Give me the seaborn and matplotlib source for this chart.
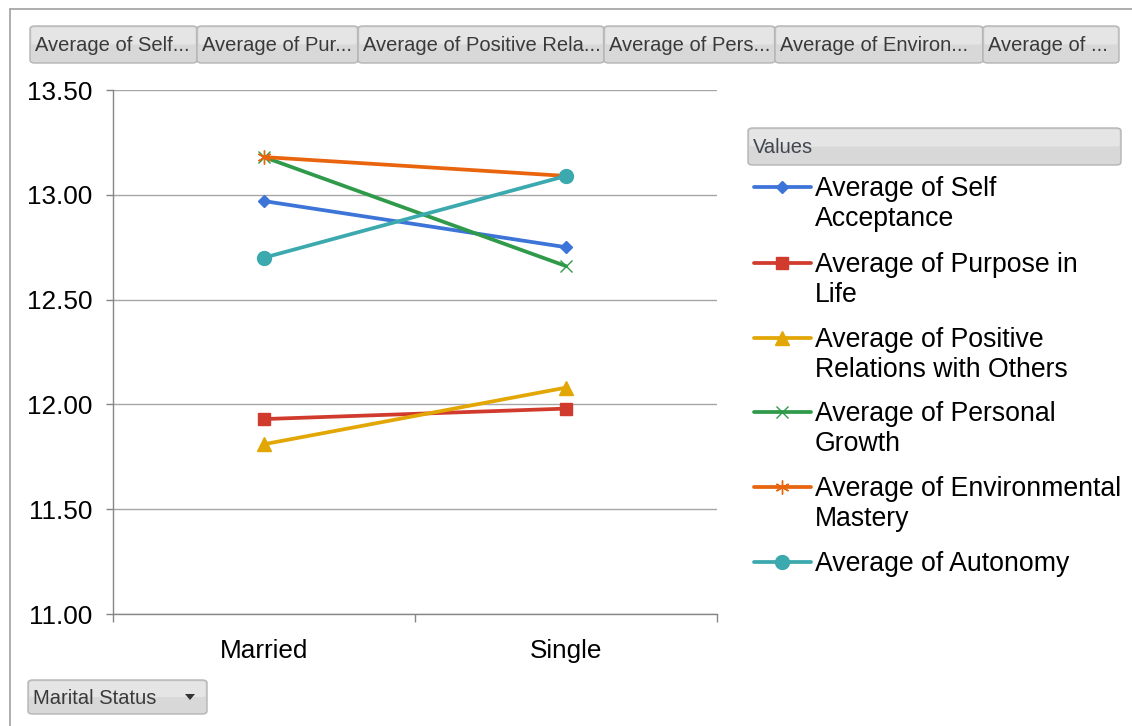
import matplotlib
matplotlib.use("Agg")
import matplotlib.pyplot as plt
import seaborn as sns
import pandas as pd
from matplotlib.patches import FancyBboxPatch, Polygon
from matplotlib.lines import Line2D

# ---------------- data ----------------
categories = ["Married", "Single"]
series_names = [
    "Average of Self Acceptance",
    "Average of Purpose in Life",
    "Average of Positive Relations with Others",
    "Average of Personal Growth",
    "Average of Environmental Mastery",
    "Average of Autonomy",
]
self_acceptance = [12.97, 12.75]
purpose_in_life = [11.93, 11.98]
positive_relations = [11.81, 12.08]
personal_growth = [13.18, 12.66]
environmental_mastery = [13.18, 13.09]
autonomy = [12.70, 13.09]
legend_lines = [
    ["Average of Self", "Acceptance"],
    ["Average of Purpose in", "Life"],
    ["Average of Positive", "Relations with Others"],
    ["Average of Personal", "Growth"],
    ["Average of Environmental", "Mastery"],
    ["Average of Autonomy"],
]
button_labels = ["Average of Self...", "Average of Pur...", "Average of Positive Rela...",
                 "Average of Pers...", "Average of Environ...", "Average of ..."]
y_ticks = [11.0, 11.5, 12.0, 12.5, 13.0, 13.5]

values = [self_acceptance, purpose_in_life, positive_relations,
          personal_growth, environmental_mastery, autonomy]
rows = []
for name, vals in zip(series_names, values):
    for cat, v in zip(categories, vals):
        rows.append({"Marital Status": cat, "value": v, "series": name})
df = pd.DataFrame(rows)

# ---------------- styles ----------------
colors = ["#3D74D8", "#D13B2D", "#E2A705", "#2F9A4A", "#E8650E", "#3BA9AE"]
markers = ["D", "s", "^", "x", (6, 2, 0), "o"]
msizes = [6.5, 9, 10, 9, 10, 10]
LW = 2.7

W, H = 1132, 726
sns.set_theme(style="white")
plt.rcParams["font.family"] = ["Liberation Sans", "DejaVu Sans"]

fig = plt.figure(figsize=(W / 100, H / 100), dpi=100)
fig.patch.set_facecolor("white")


def fx(px):
    return px / W


def fy(py):
    return 1 - py / H


ax = fig.add_axes([fx(113), fy(614), fx(717) - fx(113), fy(90) - fy(614)])

sns.lineplot(data=df, x="Marital Status", y="value", hue="series",
             hue_order=series_names, palette=colors, linewidth=LW,
             sort=False, legend=False, ax=ax)

for line, m, ms, c in zip(ax.lines, markers, msizes, colors):
    line.set_marker(m)
    line.set_markersize(ms)
    line.set_markeredgecolor(c)
    line.set_markerfacecolor(c)
    line.set_markeredgewidth(1.0)
    line.set_solid_capstyle("round")

ax.set_xlim(-0.5, 1.5)
ax.set_ylim(11.0, 13.5)
ax.set_yticks(y_ticks)
ax.set_yticklabels([f"{t:.2f}" for t in y_ticks])
ax.set_xticks([0, 1])
ax.set_xticklabels(categories)
ax.set_xticks([-0.5, 0.5, 1.5], minor=True)
ax.set_xlabel("")
ax.set_ylabel("")

grid_c = "#A6A6A6"
axis_c = "#868686"
ax.yaxis.grid(True, color=grid_c, linewidth=1.0)
ax.xaxis.grid(False)
ax.set_axisbelow(True)
for s in ["top", "right"]:
    ax.spines[s].set_visible(False)
for s in ["left", "bottom"]:
    ax.spines[s].set_color(axis_c)
    ax.spines[s].set_linewidth(1.0)
ax.tick_params(axis="y", which="major", length=5, width=1, color=axis_c,
               labelsize=18.8, labelcolor="black", pad=10, left=True)
ax.tick_params(axis="x", which="major", length=0, labelsize=18.8,
               labelcolor="black", pad=18, bottom=True)
ax.tick_params(axis="x", which="minor", length=6, width=1, color=axis_c,
               direction="out", bottom=True)

# ---------------- outer frame ----------------
frame_c = "#A0A0A0"
fig.add_artist(Line2D([fx(10), 1.0], [fy(9), fy(9)], transform=fig.transFigure,
                      color=frame_c, lw=1.2))
fig.add_artist(Line2D([fx(10), fx(10)], [fy(9), 0.0], transform=fig.transFigure,
                      color=frame_c, lw=1.2))


# ---------------- buttons ----------------
def button(x0, y0, x1, y1, label, fs=14.5, color="#3A3A3A", arrow=False):
    fig.add_artist(FancyBboxPatch((fx(x0), fy(y1)), fx(x1) - fx(x0), fy(y0) - fy(y1),
                                  boxstyle="round,pad=0,rounding_size=0.004",
                                  transform=fig.transFigure, facecolor="#D8D8D8",
                                  edgecolor="#B4B4B4", linewidth=1.0))
    # lighter upper half for a gradient feel
    fig.add_artist(FancyBboxPatch((fx(x0 + 1.5), fy((y0 + y1) / 2)),
                                  fx(x1 - 1.5) - fx(x0 + 1.5),
                                  fy(y0 + 1.5) - fy((y0 + y1) / 2),
                                  boxstyle="round,pad=0,rounding_size=0.003",
                                  transform=fig.transFigure, facecolor="#E5E5E5",
                                  edgecolor="none"))
    fig.text(fx(x0 + 5), fy((y0 + y1) / 2 + 1), label, fontsize=fs, color=color,
             ha="left", va="center", family=["Liberation Sans", "DejaVu Sans"])
    if arrow:
        cx, cy = x1 - 17, (y0 + y1) / 2
        fig.add_artist(Polygon([(fx(cx - 5), fy(cy - 3)), (fx(cx + 5), fy(cy - 3)),
                                (fx(cx), fy(cy + 3))], closed=True,
                               transform=fig.transFigure, facecolor="#333333",
                               edgecolor="none"))


btn_edges = [30, 197, 358, 604, 775, 983, 1119]
for i, lab in enumerate(button_labels):
    button(btn_edges[i], 26, btn_edges[i + 1], 63, lab)

button(748, 128, 1121, 165, "Values", color="#404650")
button(28, 680, 207, 714, "Marital Status", arrow=True)

# ---------------- legend ----------------
entry_y = [187, 263, 338, 412, 487, 562]
for c, m, ms, lines_txt, y in zip(colors, markers, msizes, legend_lines, entry_y):
    fig.add_artist(Line2D([fx(754), fx(811)], [fy(y), fy(y)], transform=fig.transFigure,
                          color=c, lw=LW, solid_capstyle="round"))
    fig.add_artist(Line2D([fx(782)], [fy(y)], transform=fig.transFigure, color=c,
                          marker=m, markersize=ms, markeredgecolor=c,
                          markerfacecolor=c, markeredgewidth=1.0, linestyle="none"))
    for k, t in enumerate(lines_txt):
        fig.text(fx(815), fy(y + 9 + 30 * k), t, fontsize=19.2, color="black",
                 ha="left", va="baseline")

fig.savefig("out.png", dpi=100, facecolor="white")
